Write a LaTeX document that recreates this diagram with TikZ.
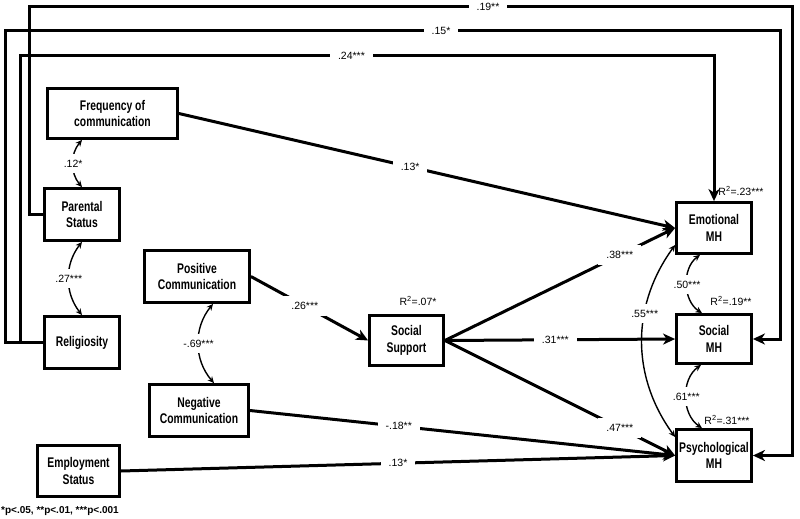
\documentclass[tikz,border=0pt]{standalone}
\usepackage{fontspec}
\setmainfont{Liberation Sans}
\newfontfamily\boxfont[FakeStretch=0.74]{Liberation Sans Bold}
\usetikzlibrary{arrows.meta,calc}
\begin{document}
\begin{tikzpicture}[x=1pt,y=-1pt,
  box/.style={draw, line width=2.8pt, inner sep=0pt, align=center,
    font=\boxfont\fontsize{14}{16.5}\selectfont},
  pathline/.style={line width=3pt, -{Stealth[length=12pt,width=11pt,inset=3.5pt]}},
  cor/.style={line width=1.4pt, {Stealth[length=6.5pt,width=6pt]}-{Stealth[length=6.5pt,width=6pt]}},
  lab/.style={fill=white, inner xsep=8pt, inner ysep=6pt, font=\fontsize{10.5}{12}\selectfont},
  clab/.style={lab, inner xsep=1pt},
  rsq/.style={inner sep=0pt, font=\fontsize{10.5}{12}\selectfont},
  note/.style={inner sep=0pt, font=\bfseries\fontsize{10}{12}\selectfont}
]
\useasboundingbox[fill=white] (0,0) rectangle (800,519);

% nodes
\node[box, minimum width=130pt, minimum height=50pt] (freq) at (112.5,113.5) {Frequency of\\communication};
\node[box, minimum width=75pt, minimum height=52pt] (par) at (82,214.5) {Parental\\Status};
\node[box, minimum width=75pt, minimum height=52pt] (rel) at (82,342.5) {Religiosity};
\node[box, minimum width=105pt, minimum height=52pt] (pos) at (197,276.5) {Positive\\Communication};
\node[box, minimum width=99pt, minimum height=52pt] (neg) at (199,410.5) {Negative\\Communication};
\node[box, minimum width=82pt, minimum height=51pt] (emp) at (78.5,471) {Employment\\Status};
\node[box, minimum width=74pt, minimum height=50pt] (ss) at (406.5,340.5) {Social\\Support};
\node[box, minimum width=75pt, minimum height=51pt] (emo) at (714,228) {Emotional\\MH};
\node[box, minimum width=75pt, minimum height=49pt] (soc) at (714,339) {Social\\MH};
\node[box, minimum width=75pt, minimum height=52pt] (psy) at (714,455.5) {Psychological\\MH};

% corner coordinates of the long paths
\coordinate (a19) at (29,7);
\coordinate (b19) at (792,7);
\coordinate (a15) at (5,31);
\coordinate (b15) at (780,31);
\coordinate (a24) at (20,56);
\coordinate (b24) at (714,56);

% long rectilinear paths
\draw[pathline] (par.west) -| (a19) -- node[lab, pos=0.6016] {.19**} (b19) |- (psy.east);
\draw[pathline] (rel.west) -| (a15) -- node[lab, pos=0.5626] {.15*} (b15) |- (soc.east);
\draw[pathline] (rel.west) -| (a24) -- node[lab, pos=0.4776] {.24***} (b24) -- (emo.north);

% direct paths
\draw[pathline] (freq.east) -- node[lab, pos=0.466] {.13*} (emo.west);
\draw[pathline] (pos.east) -- node[lab, pos=0.46] {.26***} (ss.west);
\draw[pathline] (ss.east) -- node[lab, pos=0.76] {.38***} (emo.west);
\draw[pathline] (ss.east) -- node[lab, pos=0.48] {.31***} (soc.west);
\draw[pathline] (ss.east) -- node[lab, pos=0.76] {.47***} (psy.west);
\draw[pathline] (neg.east) -- node[lab, pos=0.35] {-.18**} (psy.west);
\draw[pathline] (emp.east) -- node[lab, pos=0.5] {.13*} (psy.west);

% correlations
\draw[cor] (par.north |- freq.south) to[bend right=40] node[clab] {.12*} (par.north);
\draw[cor] (par.south) to[bend right=38] node[clab] {.27***} (rel.north);
\draw[cor] ([xshift=16pt]pos.south) to[bend right=40] node[clab] {-.69***} ([xshift=15pt]neg.north);
\draw[cor] ([xshift=-14pt]emo.south) to[bend right=55] node[clab] {.50***} ([xshift=-12pt]soc.north);
\draw[cor] ([xshift=-13pt]soc.south) to[bend right=55] node[clab] {.61***} ([xshift=-12pt]psy.north);
\draw[cor] ([yshift=-17pt]emo.west) to[bend right=36] node[clab, pos=0.36] {.55***} ([yshift=18.5pt]psy.west);

% R squared
\node[rsq] (r1) at (741,191) {R\textsuperscript{2}=.23***};
\node[rsq] (r2) at (731,301) {R\textsuperscript{2}=.19**};
\node[rsq] (r3) at (727,420) {R\textsuperscript{2}=.31***};
\node[rsq] (r4) at (418,301) {R\textsuperscript{2}=.07*};

% note
\node[note] (fn) at (60,511) {*p<.05, **p<.01, ***p<.001};
\end{tikzpicture}
\end{document}
